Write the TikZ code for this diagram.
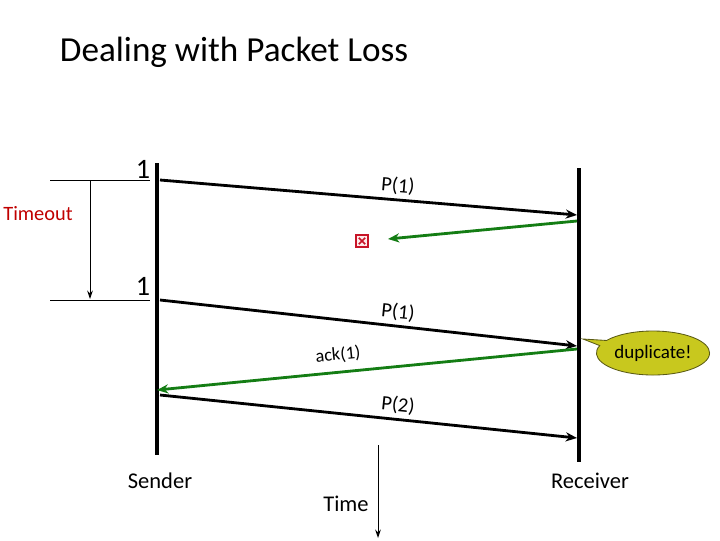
\documentclass[tikz,border=0pt]{standalone}
\usepackage{fontspec}
\setmainfont{Carlito}
\usetikzlibrary{shapes.callouts,arrows.meta}
\definecolor{ackgreen}{RGB}{20,125,20}
\definecolor{dupfill}{RGB}{200,200,30}
\definecolor{dupline}{RGB}{90,90,20}
\definecolor{timeoutred}{RGB}{192,0,0}
\definecolor{lostred}{RGB}{200,20,40}

\begin{document}
\begin{tikzpicture}[x=0.025cm,y=-0.025cm,
    msg/.style={line width=2pt,-{Stealth[length=8pt,width=6.5pt]}},
    ackmsg/.style={msg,draw=ackgreen},
    timeline/.style={line width=2.8pt},
    thin/.style={line width=0.7pt},
    lbl/.style={font=\fontsize{14.5}{17}\selectfont,inner sep=1pt},
    big/.style={font=\fontsize{16}{19}\selectfont,inner sep=1pt}]
    \useasboundingbox (0,0) rectangle (720,540);

    % Title
    \node[anchor=west,font=\fontsize{25}{30}\selectfont] (title) at (55,52) {Dealing with Packet Loss};

    % Time lines of sender and receiver
    \coordinate (stop) at (157,163); \coordinate (sbot) at (157,455);
    \coordinate (rtop) at (579,168); \coordinate (rbot) at (579,462);
    \draw[timeline] (stop) -- (sbot);
    \draw[timeline] (rtop) -- (rbot);
    \node[big] (sender) at (160,481) {Sender};
    \node[big] (receiver) at (590,481) {Receiver};

    % Timeout marker
    \node[font=\fontsize{20}{24}\selectfont] (one1) at (143,169) {1};
    \node[font=\fontsize{20}{24}\selectfont] (one2) at (143,286) {1};
    \coordinate (ta) at (50,180); \coordinate (tb) at (150,180);
    \coordinate (tc) at (50,300); \coordinate (td) at (150,300);
    \coordinate (tup) at (90,180); \coordinate (tdown) at (90,299);
    \draw[thin] (ta) -- (tb);
    \draw[thin] (tc) -- (td);
    \draw[thin,-{Stealth[length=6pt,width=4pt]}] (tup) -- (tdown);
    \node[font=\fontsize{14.5}{17}\selectfont,text=timeoutred] (timeout) at (38,214) {Timeout};

    % Packets and acks
    \coordinate (s1) at (160,180); \coordinate (r1) at (577,215);
    \coordinate (r1a) at (577,221); \coordinate (lost) at (388,239);
    \coordinate (s2) at (160,300); \coordinate (r2) at (577,346);
    \coordinate (r2a) at (577,349); \coordinate (s2a) at (157,390);
    \coordinate (s3) at (160,395); \coordinate (r3) at (577,438);
    \draw[msg] (s1) -- (r1);
    \draw[ackmsg] (r1a) -- (lost);
    \draw[msg] (s2) -- (r2);
    \draw[ackmsg] (r2a) -- (s2a);
    \draw[msg] (s3) -- (r3);
    \node[lbl,rotate=-4.8] (p1) at (398,186) {P(1)};
    \node[lbl,rotate=-5.6] (p1b) at (398,312) {P(1)};
    \node[lbl,font=\fontsize{13}{15}\selectfont,rotate=5.6] (ack1) at (338,355) {ack(1)};
    \node[lbl,rotate=-5.9] (p2) at (398,405) {P(2)};

    % Lost ack
    \node[draw=lostred,fill=red!8,line width=1pt,minimum size=8.5pt,inner sep=0pt,
        path picture={\draw[lostred,line width=1.2pt]
            ([xshift=2pt,yshift=-2pt]path picture bounding box.north west) --
            ([xshift=-2pt,yshift=2pt]path picture bounding box.south east)
            ([xshift=-2pt,yshift=-2pt]path picture bounding box.north east) --
            ([xshift=2pt,yshift=2pt]path picture bounding box.south west);}]
        (lostmark) at (362,241) {};

    % Duplicate callout
    \coordinate (duptip) at (583,339);
    \node[ellipse callout,draw=dupline,fill=dupfill,line width=0.6pt,
        minimum width=2.8cm,minimum height=1.1cm,inner sep=1pt,
        callout absolute pointer={(duptip)},
        font=\fontsize{13.5}{16}\selectfont] (dup) at (653,353) {duplicate!};

    % Time axis
    \coordinate (time0) at (378,445); \coordinate (time1) at (378,538);
    \draw[thin,-{Stealth[length=6pt,width=4pt]}] (time0) -- (time1);
    \node[big] (time) at (346,504) {Time};
\end{tikzpicture}
\end{document}
